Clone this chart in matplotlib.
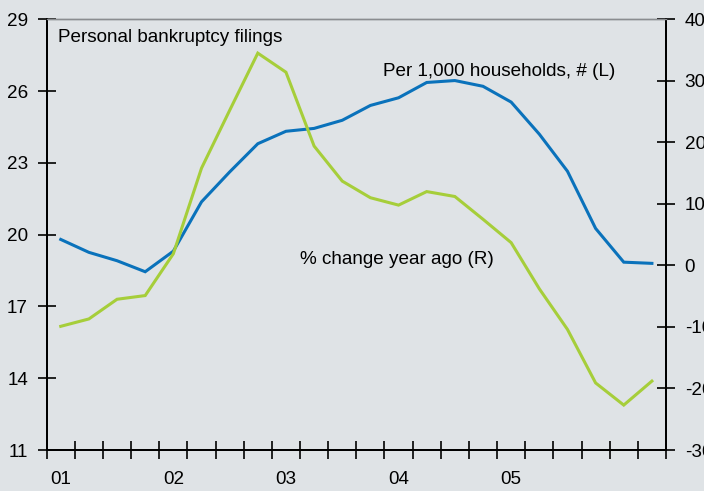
import numpy as np
import matplotlib.pyplot as plt

plt.rcParams['font.family'] = ['Liberation Sans', 'DejaVu Sans']
plt.rcParams['axes.unicode_minus'] = False

# Quarterly data, 2001Q1 .. 2006Q2
quarters = ['01Q1', '01Q2', '01Q3', '01Q4', '02Q1', '02Q2', '02Q3', '02Q4',
            '03Q1', '03Q2', '03Q3', '03Q4', '04Q1', '04Q2', '04Q3', '04Q4',
            '05Q1', '05Q2', '05Q3', '05Q4', '06Q1', '06Q2']
per_1000_hh = [19.80, 19.26, 18.91, 18.45, 19.31, 21.37, 22.62, 23.80,
               24.32, 24.44, 24.78, 25.40, 25.72, 26.36, 26.44, 26.20,
               25.54, 24.20, 22.65, 20.26, 18.85, 18.80]
pct_change_yoy = [-9.9, -8.7, -5.5, -4.9, 1.9, 15.8, 25.2, 34.5,
                  31.4, 19.4, 13.7, 11.0, 9.8, 12.0, 11.2, 7.5,
                  3.7, -3.8, -10.4, -19.1, -22.7, -18.8]
year_labels = ['01', '02', '03', '04', '05']

bg = '#dfe3e6'
blue = '#0a72bb'
green = '#a6ce3a'
fs = 13.6

fig = plt.figure(figsize=(7.04, 4.91), dpi=100, facecolor=bg)
ax = fig.add_axes([0.0663, 0.0835, 0.8797, 0.8772], facecolor=bg)
ax2 = ax.twinx()

x = np.arange(len(quarters)) + 0.5
ax.plot(x, per_1000_hh, color=blue, lw=2.2, solid_joinstyle='miter')
ax2.plot(x, pct_change_yoy, color=green, lw=2.2, solid_joinstyle='miter')

ax.set_xlim(0, len(quarters))
ax.set_ylim(11, 29)
ax.set_yticks(np.arange(11, 30, 3))
ax2.set_ylim(-30, 40)
ax2.set_yticks(np.arange(-30, 41, 10))

# quarter ticks on the axis, year labels under the first quarter
ax.set_xticks(np.arange(0, len(quarters) + 1))
ax.set_xticklabels([])
ax.set_xticks(x[::4][:len(year_labels)], minor=True)
ax.set_xticklabels(year_labels, minor=True)
ax.tick_params(axis='x', which='minor', length=0, pad=15, labelsize=fs)

for a in (ax, ax2):
    a.tick_params(which='major', direction='inout', length=13, width=1.2,
                  labelsize=fs, color='black')
    for s in a.spines.values():
        s.set_linewidth(1.4)
        s.set_color('black')
    a.spines['top'].set_color('#8a8d90')
    a.spines['top'].set_linewidth(1.0)
ax.tick_params(axis='y', pad=7)
ax2.tick_params(axis='y', pad=7)

ax.text(0.018, 0.948, 'Personal bankruptcy filings', transform=ax.transAxes,
        ha='left', va='baseline', fontsize=fs)
ax.text(0.918, 0.868, 'Per 1,000 households, # (L)', transform=ax.transAxes,
        ha='right', va='baseline', fontsize=fs)
ax.text(0.409, 0.431, '% change year ago (R)', transform=ax.transAxes,
        ha='left', va='baseline', fontsize=fs)

fig.savefig('out.png', dpi=100, facecolor=bg)
